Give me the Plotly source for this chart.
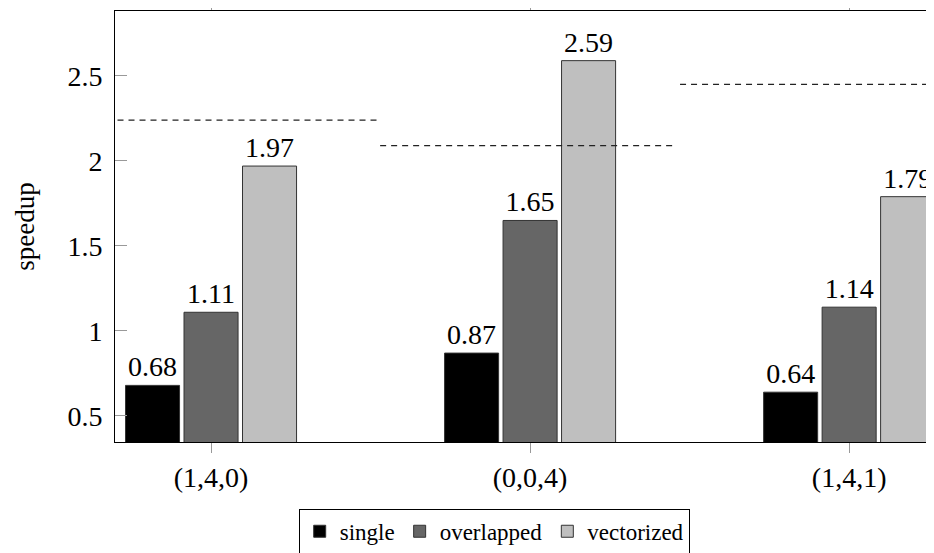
import plotly.graph_objects as go

categories = ["(1,4,0)", "(0,0,4)", "(1,4,1)"]
single = [0.68, 0.87, 0.64]
overlapped = [1.11, 1.65, 1.14]
vectorized = [1.97, 2.59, 1.79]
reference = [2.24, 2.09, 2.45]
reference_start = [-0.5, 0.53, 1.47]
reference_end = [0.524, 1.455, 2.5]
y_ticks = [0.5, 1, 1.5, 2, 2.5]

series = [
    ("single", single, "#000000"),
    ("overlapped", overlapped, "#666666"),
    ("vectorized", vectorized, "#bfbfbf"),
]

FONT = "Liberation Serif"
xs = list(range(len(categories)))

fig = go.Figure()
for name, vals, color in series:
    fig.add_trace(go.Bar(
        x=xs, y=vals, name=name,
        marker=dict(color=color, line=dict(color="#333333", width=1)),
        text=[f"{v:.2f}" for v in vals],
        textposition="outside",
        textfont=dict(family=FONT, size=28, color="black"),
        outsidetextfont=dict(family=FONT, size=28, color="black"),
        constraintext="none",
        cliponaxis=False,
    ))

for r, x0, x1 in zip(reference, reference_start, reference_end):
    fig.add_trace(go.Scatter(
        x=[x0, x1], y=[r, r], mode="lines",
        line=dict(color="#222222", width=1.2, dash="6px,5px"),
        showlegend=False, hoverinfo="skip",
    ))

# page body has an 8px margin, so the figure is 8px smaller and margins shifted
fig.update_layout(
    width=926, height=545,
    margin=dict(l=107, r=0, t=3, b=111, autoexpand=False),
    plot_bgcolor="white", paper_bgcolor="white",
    barmode="group", bargap=0.45, bargroupgap=0.076,
    font=dict(family=FONT, size=28, color="black"),
    showlegend=True,
    legend=dict(
        orientation="h", x=0.463, xanchor="center", y=-0.155, yanchor="top",
        bordercolor="black", borderwidth=1, font=dict(family=FONT, size=23),
        itemwidth=30, tracegroupgap=0, bgcolor="white",
    ),
)
fig.update_xaxes(
    range=[-0.301, 2.266], tickmode="array", tickvals=xs, ticktext=categories,
    showline=True, linecolor="black", linewidth=1, mirror="allticks",
    ticks="outside", ticklen=10, tickcolor="#999999", showgrid=False, zeroline=False,
    tickfont=dict(family=FONT, size=28), automargin=False,
)
fig.update_yaxes(
    range=[0.347, 2.882], tickmode="array", tickvals=y_ticks,
    ticktext=[str(t) for t in y_ticks],
    showline=True, linecolor="black", linewidth=1, mirror=False,
    ticks="inside", ticklen=12, tickcolor="#999999", showgrid=False, zeroline=False,
    tickfont=dict(family=FONT, size=28), ticklabelstandoff=6, automargin=False,
    title=dict(text="speedup", font=dict(family=FONT, size=27), standoff=24),
)

fig.write_html("out.html")
